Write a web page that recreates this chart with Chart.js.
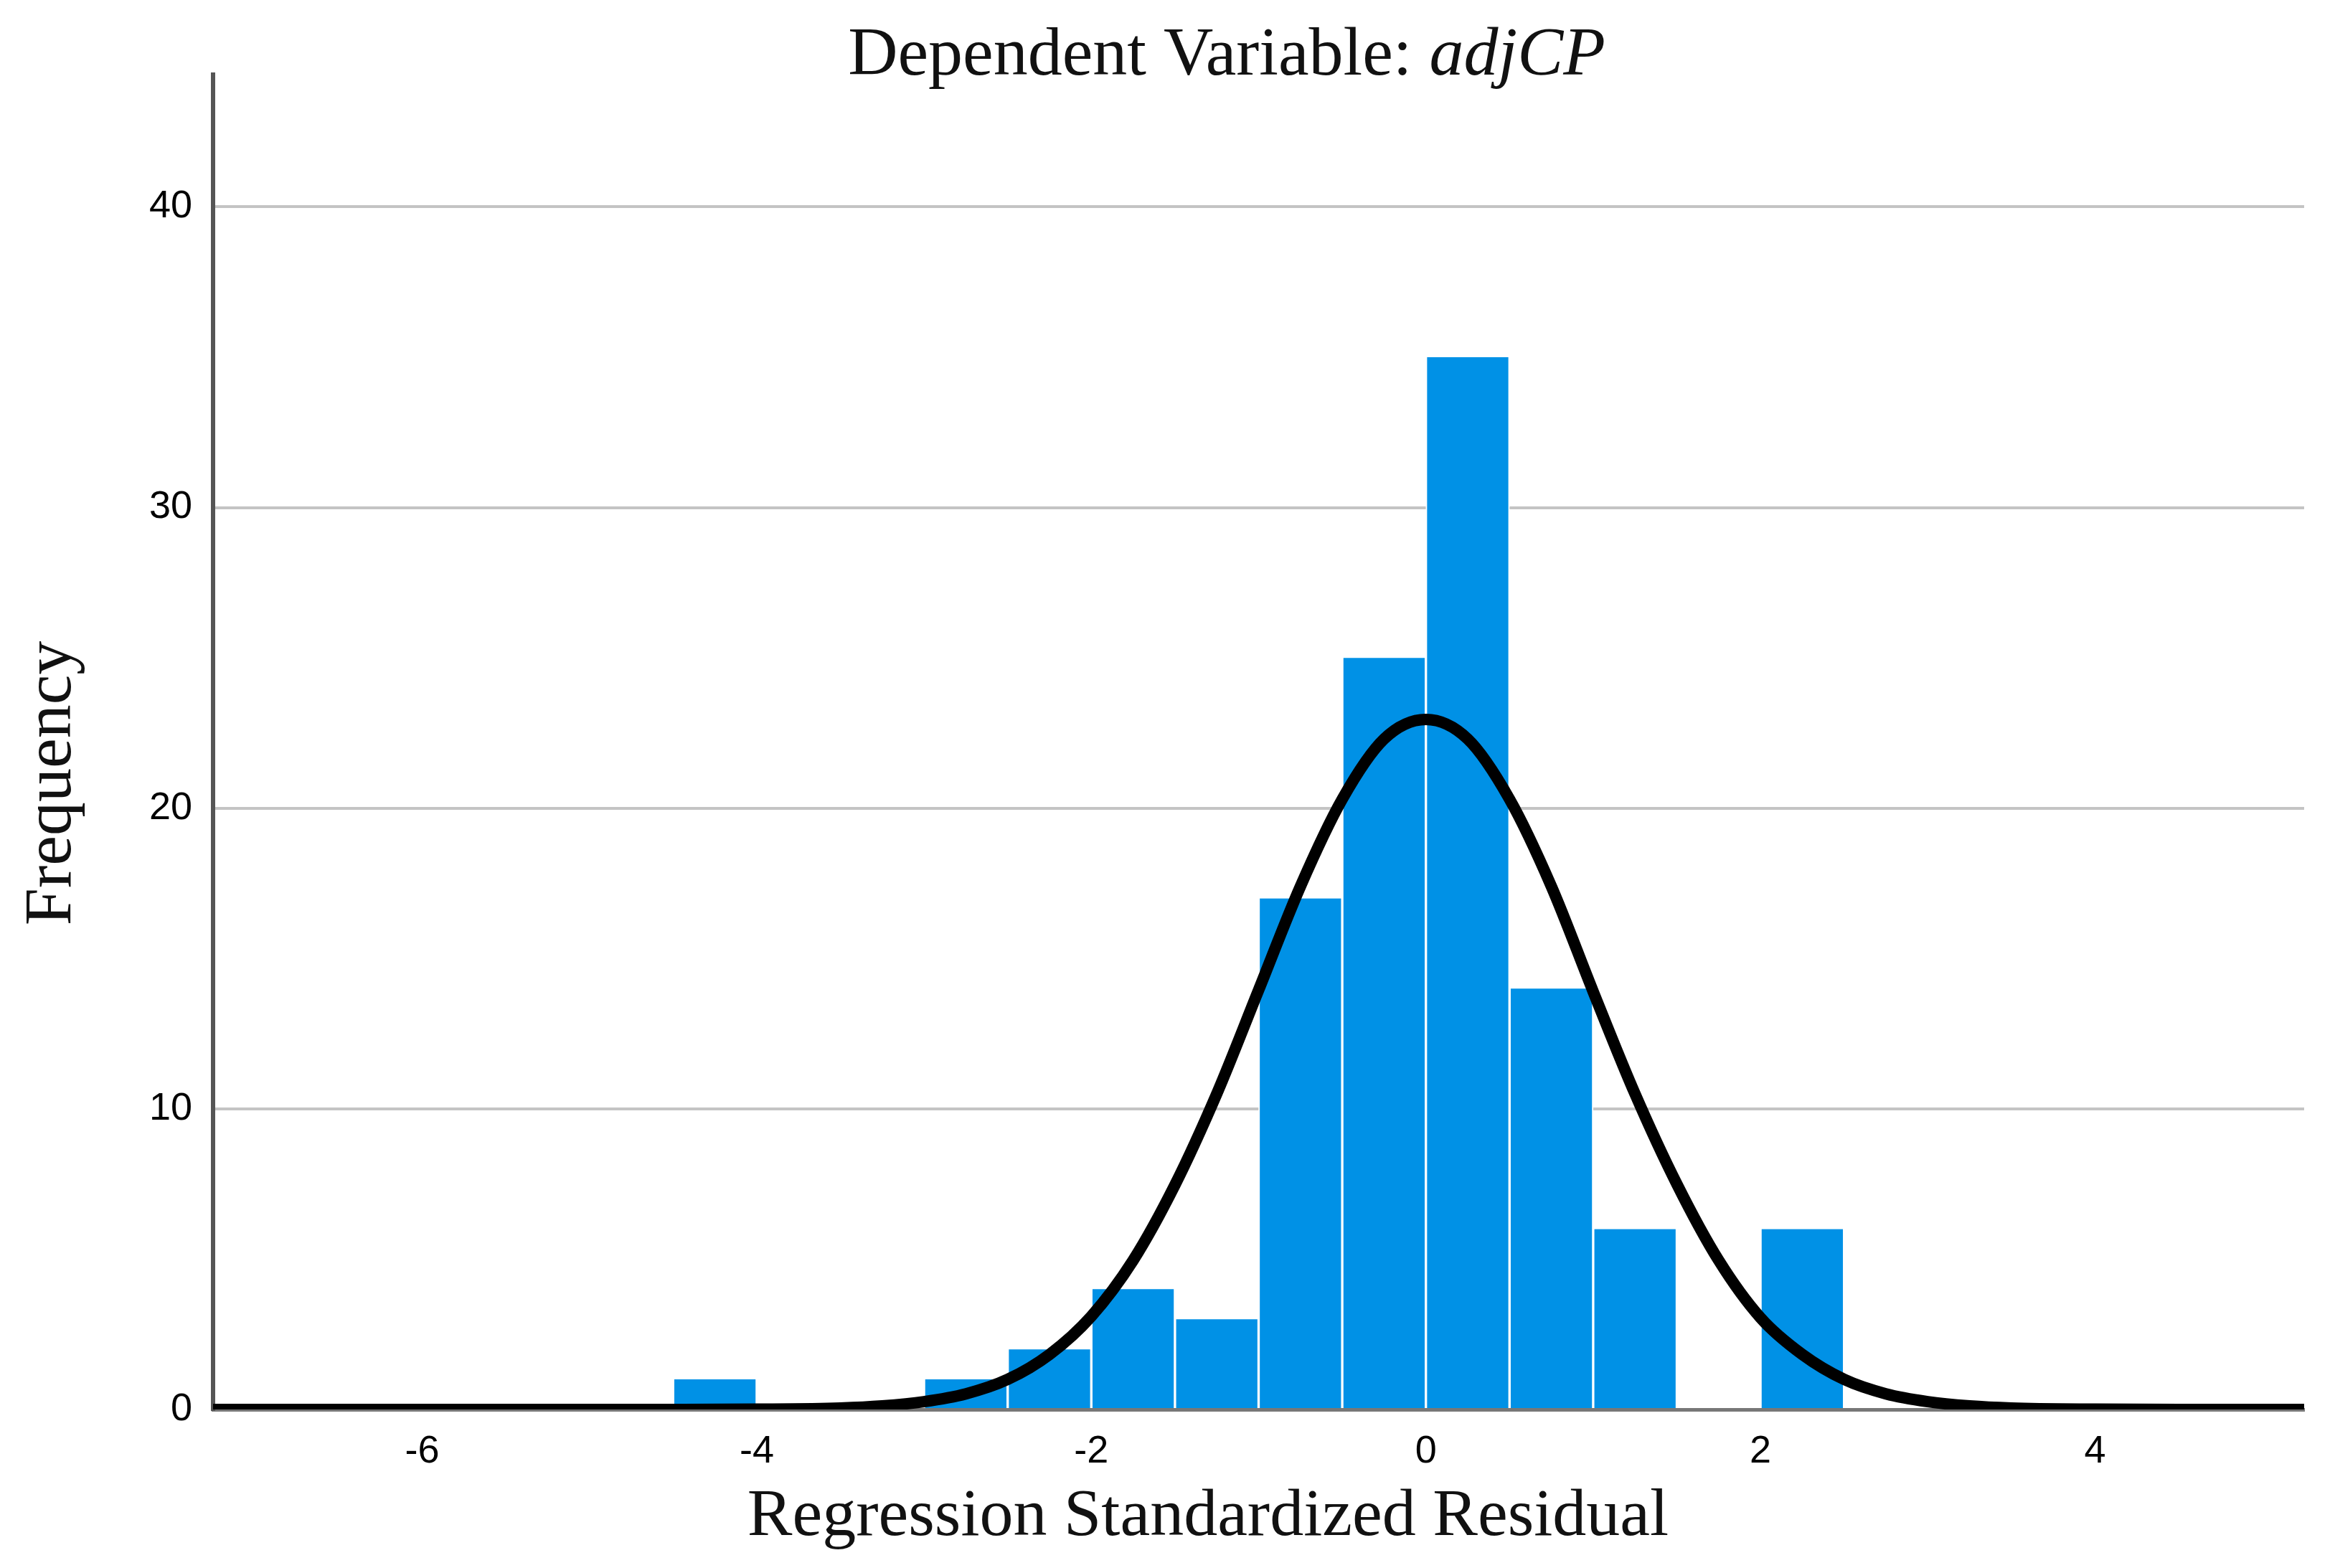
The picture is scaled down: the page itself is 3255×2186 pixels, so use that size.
<!DOCTYPE html>
<html>
<head>
<meta charset="utf-8">
<script src="https://cdn.jsdelivr.net/npm/chart.js@4"></script>
<style>
  html, body { margin: 0; padding: 0; background: #fff; }
  #wrap { width: 3255px; height: 2186px; }
</style>
</head>
<body>
<div id="wrap"><canvas id="chart1"></canvas></div>
<script>
/* data */
const binCenters = [-4.25, -3.75, -3.25, -2.75, -2.25, -1.75, -1.25, -0.75, -0.25, 0.25, 0.75, 1.25, 1.75, 2.25];
const binCounts  = [1, 0, 0, 1, 2, 4, 3, 17, 25, 35, 14, 6, 0, 6];

/* normal curve, points */
const curveX = [-7.25, -5, -4.5, -4, -3.5, -3.25, -3, -2.75, -2.5, -2.25, -2, -1.75, -1.5, -1.25, -1, -0.75, -0.5, -0.25, 0,
                0.25, 0.5, 0.75, 1, 1.25, 1.5, 1.75, 2, 2.25, 2.5, 2.75, 3, 3.25, 3.5, 4, 4.5, 5.25];
const curveY = [0, 0, 0, 0.01, 0.05, 0.12, 0.26, 0.52, 1.0, 1.83, 3.1, 4.96, 7.47, 10.5, 13.95, 17.4, 20.3, 22.3, 22.95,
                22.3, 20.3, 17.4, 13.9, 10.5, 7.5, 4.96, 3.05, 1.83, 1.0, 0.52, 0.26, 0.12, 0.05, 0.01, 0, 0];

const xTicks = [-6, -4, -2, 0, 2, 4];
const yTicks = [0, 10, 20, 30, 40];

const titleMain = 'Dependent Variable: ';
const titleVar = 'adjCP';
const xTitle = 'Regression Standardized Residual';
const yTitle = 'Frequency';

/* titles drawn by hand so the variable name can be italic */
const textPlugin = {
  id: 'spssText',
  afterDraw(chart) {
    const ctx = chart.ctx;
    ctx.save();
    ctx.fillStyle = '#111111';
    ctx.textBaseline = 'alphabetic';

    ctx.font = '96px "Liberation Serif"';
    const w1 = ctx.measureText(titleMain).width;
    ctx.font = 'italic 96px "Liberation Serif"';
    const w2 = ctx.measureText(titleVar).width;
    let x = 1710 - (w1 + w2) / 2;
    ctx.font = '96px "Liberation Serif"';
    ctx.textAlign = 'left';
    ctx.fillText(titleMain, x, 104);
    ctx.font = 'italic 96px "Liberation Serif"';
    ctx.fillText(titleVar, x + w1, 104);

    ctx.font = '94px "Liberation Serif"';
    ctx.textAlign = 'center';
    ctx.fillText(xTitle, 1684, 2140);

    ctx.translate(98, 1092);
    ctx.rotate(-Math.PI / 2);
    ctx.fillText(yTitle, 0, 0);
    ctx.restore();
  }
};

const ctx = document.getElementById('chart1').getContext('2d');

const histChart = new Chart(ctx, {
  type: 'bar',
  data: {
    datasets: [
      {
        type: 'line',
        data: curveX.map((v, i) => ({ x: v, y: curveY[i] })),
        borderColor: '#000000',
        borderWidth: 16,
        pointRadius: 0,
        cubicInterpolationMode: 'monotone',
        fill: false,
        order: 0
      },
      {
        type: 'bar',
        data: binCenters.map((v, i) => ({ x: v, y: binCounts[i] })),
        backgroundColor: '#0091e6',
        borderColor: '#ffffff',
        borderWidth: { left: 2, right: 2, top: 0, bottom: 0 },
        borderSkipped: false,
        barPercentage: 1,
        categoryPercentage: 1,
        order: 1
      }
    ]
  },
  plugins: [textPlugin],
  options: {
    responsive: true,
    maintainAspectRatio: false,
    animation: false,
    layout: {
      padding: { top: 104, right: 43, left: 0, bottom: 0 }
    },
    plugins: {
      legend: { display: false },
      tooltip: { enabled: false },
      title: { display: false }
    },
    scales: {
      x: {
        type: 'linear',
        min: -7.25,
        max: 5.25,
        offset: false,
        afterBuildTicks: (axis) => { axis.ticks = xTicks.map(v => ({ value: v })); },
        afterFit: (axis) => { axis.height = 221; },
        grid: { display: false, drawTicks: false },
        border: { color: '#777777', width: 5 },
        ticks: {
          color: '#000000',
          padding: 27,
          maxRotation: 0,
          font: { family: '"Liberation Sans"', size: 54 }
        }
      },
      y: {
        min: 0,
        max: 44.4,
        afterBuildTicks: (axis) => { axis.ticks = yTicks.map(v => ({ value: v })); },
        afterFit: (axis) => { axis.width = 297; },
        grid: {
          color: '#c4c4c4',
          lineWidth: 4,
          drawTicks: false
        },
        border: { color: '#555555', width: 6 },
        ticks: {
          color: '#000000',
          padding: 29,
          font: { family: '"Liberation Sans"', size: 54 }
        }
      }
    }
  }
});
</script>
</body>
</html>
